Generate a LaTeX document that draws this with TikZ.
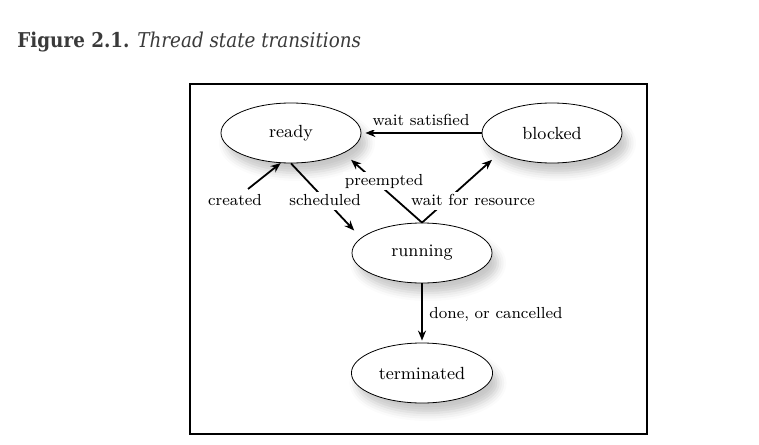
\documentclass[tikz,border=0pt]{standalone}
\usepackage{fontspec}
\newfontfamily\titlefont{DejaVu Serif Condensed}
\usetikzlibrary{shapes.geometric,arrows.meta,shadows.blur}
\definecolor{titlegray}{HTML}{3A3A3A}

\begin{document}
\begin{tikzpicture}[x=0.5pt,y=-0.5pt,
    state/.style={ellipse, draw, line width=0.4pt, fill=white,
        minimum width=70pt, minimum height=30pt, font=\fontsize{8.8}{10}\selectfont,
        blur shadow={shadow xshift=3pt, shadow yshift=-5pt, shadow blur radius=4pt, shadow opacity=22}},
    arr/.style={line width=0.9pt, -{Stealth[length=5pt,width=4pt]}},
    lbl/.style={fill=white, inner sep=1pt, text height=1.4ex, text depth=.25ex,
        font=\fontsize{8}{9.5}\selectfont}]
            \useasboundingbox (0,0) rectangle (759,444);

            \path (17,48)
            node[anchor=base west, text=titlegray, inner sep=0pt] (title)
            {\titlefont\fontsize{10.2}{12}\selectfont\textbf{Figure 2.1.} \textit{Thread state transitions}};

            \draw[line width=0.8pt] (190,84) rectangle (647,434);

            \node[state] (ready) at (291,133) {ready};
            \node[state] (blocked) at (552,133) {blocked};
            \node[state] (running) at (422,253) {running};
            \node[state] (terminated) at (422,373) {terminated};

            \coordinate (new) at (248,189);

            \draw[arr, shorten >=2pt] (blocked.west) -- (ready.east);
            \draw[arr] (new) -- (ready.251);
            \draw[arr, shorten >=5pt] (ready.south) -- (running.166);
            \draw[arr, shorten >=5pt] (running.north) -- (ready.339);
            \draw[arr, shorten >=5pt] (running.north) -- (blocked.201);
            \draw[arr, shorten >=1pt] (running.south) -- (terminated.north);

            \path (421,121)
            node[lbl] (lwait) {wait satisfied};
            \path (235,201)
            node[lbl] (lcreated) {created};
            \path (325,201)
            node[lbl] (lsched) {scheduled};
            \path (384,181)
            node[lbl] (lpreempt) {preempted};
            \path (473,201)
            node[lbl] (lresource) {wait for resource};
            \path (427,314)
            node[lbl, anchor=west] (ldone) {done, or cancelled};

        \end{tikzpicture}
\end{document}
